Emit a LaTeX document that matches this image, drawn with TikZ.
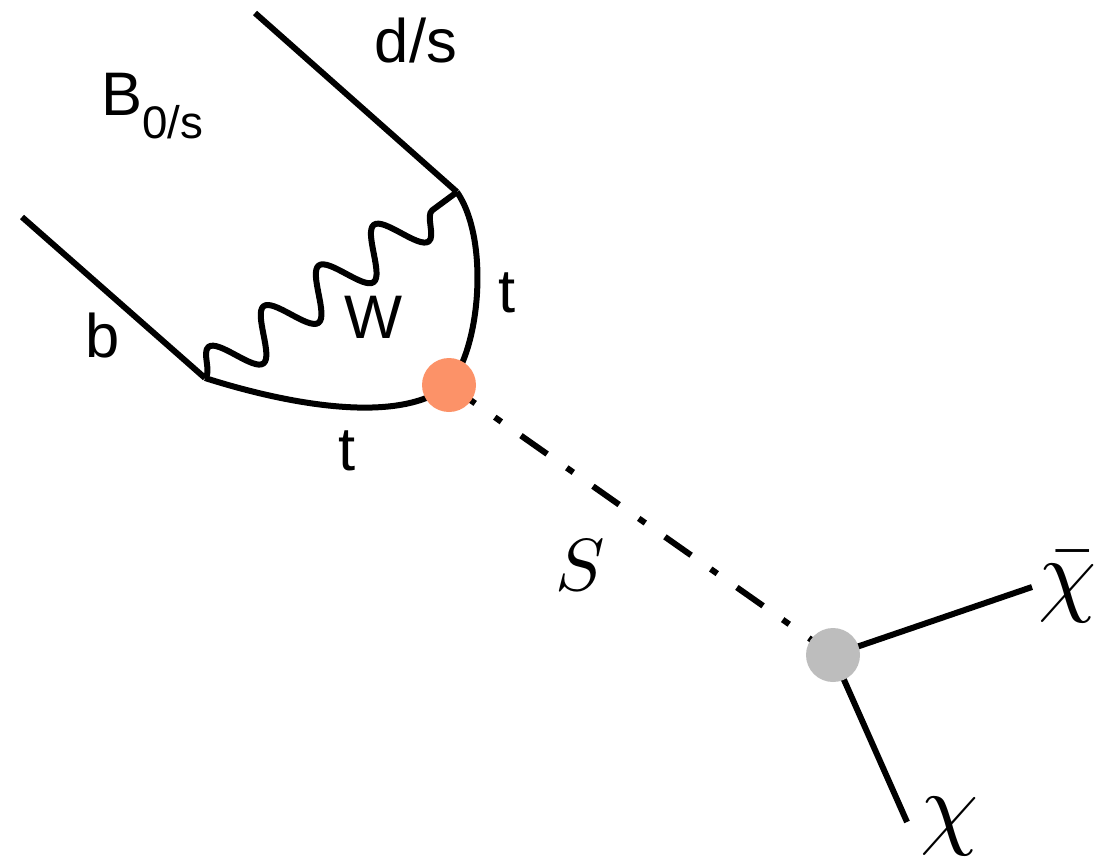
\documentclass[tikz,border=0pt]{standalone}
\usepackage{fontspec}
\setmainfont{Liberation Sans}
\usetikzlibrary{decorations.pathmorphing}
\definecolor{vtxorange}{RGB}{252,146,104}
\definecolor{vtxgrey}{RGB}{189,189,189}

\begin{document}
\begin{tikzpicture}[x=0.02cm, y=-0.02cm, line width=0.12cm,
    fermion/.style={line join=round},
    boson/.style={line join=round, decorate,
      decoration={snake, segment length=1.37cm, amplitude=0.46cm}},
    scalar/.style={dash pattern=on 0.64cm off 0.48cm on 0.16cm off 0.48cm},
    blob/.style={circle, draw=none, minimum size=1.08cm, inner sep=0pt},
    lbl/.style={font=\fontsize{35}{40}\selectfont, inner sep=0pt, anchor=base},
    mathlbl/.style={inner sep=0pt, anchor=base}]
    \useasboundingbox (0,0) rectangle (1118,859);

    % External quark legs
    \coordinate (bin) at (22,217);
    \coordinate (bv) at (205,378);
    \coordinate (din) at (255,13);
    \coordinate (dv) at (457,192);
    \draw[fermion] (bin) -- (bv);
    \draw[fermion] (din) -- (dv);

    % Vertices
    \coordinate (sv) at (449,385);
    \coordinate (xv) at (833,655);
    \coordinate (xbar) at (1032,587);
    \coordinate (xend) at (907,822);

    % Top loop
    \draw[fermion] (bv) .. controls (290,405) and (400,425) .. (sv)
                        .. controls (480,350) and (490,240) .. (dv);
    \draw[boson] (bv) -- (dv);

    % Scalar line and decay
    \draw[scalar] (sv) -- (xv);
    \draw (xv) -- (xbar);
    \draw (xv) -- (xend);
    \node[blob, fill=vtxorange] (svtx) at (sv) {};
    \node[blob, fill=vtxgrey] (xvtx) at (xv) {};

    % Labels
    \node[lbl, anchor=base west] (Blbl) at (98,115)
      {B\raisebox{-0.46cm}{\fontsize{26}{30}\selectfont 0/s}};
    \node[lbl] (dlbl) at (416,62) {d/s};
    \node[lbl] (blbl) at (103,357) {b};
    \node[lbl] (Wlbl) at (374,338) {W};
    \node[lbl] (t1lbl) at (507,312) {t};
    \node[lbl] (t2lbl) at (347,470) {t};
    \node[mathlbl] (Slbl) at (580,590) {\scalebox{4.2}{$S$}};
    \node[mathlbl] (xlbl) at (950,837) {\scalebox{5.3}{$\chi$}};
    \node[mathlbl] (xbarlbl) at (1068,604) {\scalebox{5.3}{$\bar{\chi}$}};
\end{tikzpicture}
\end{document}
